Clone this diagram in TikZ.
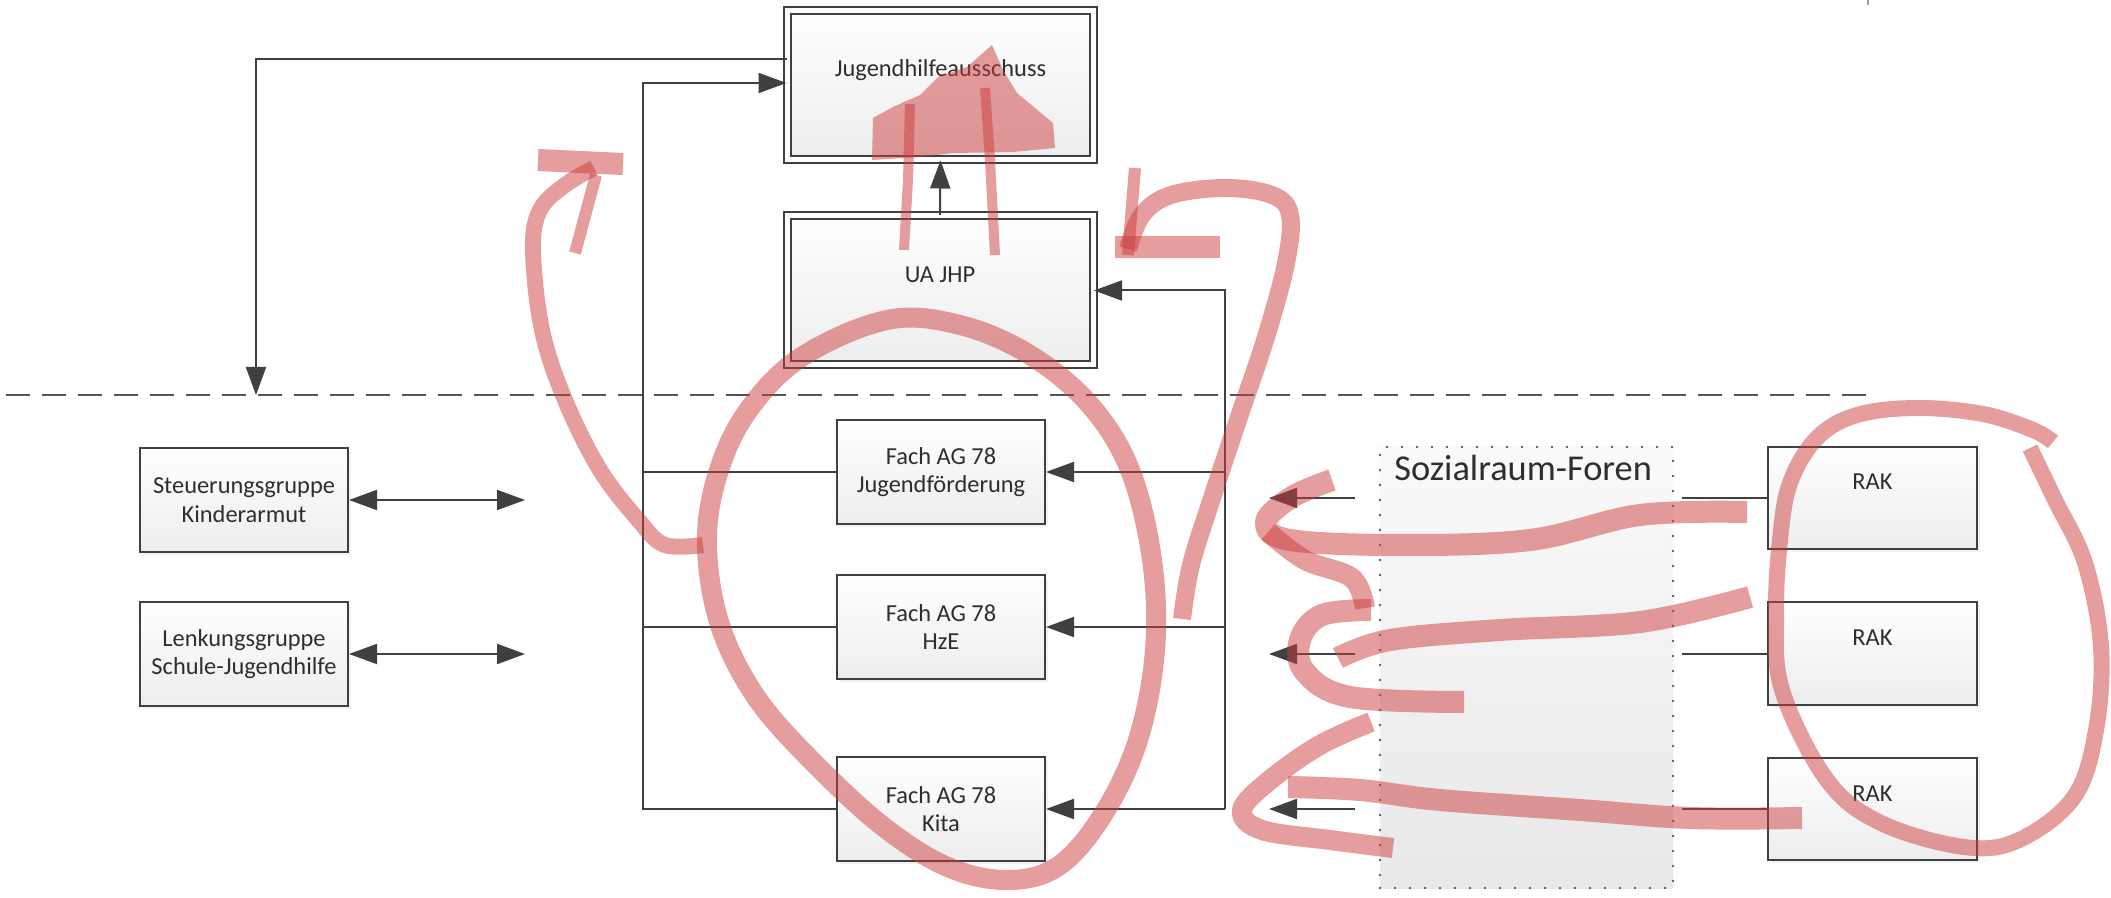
\documentclass[tikz,border=0pt]{standalone}
\usepackage{fontspec}
\setmainfont{Carlito}
\usetikzlibrary{arrows.meta,shadows}
\definecolor{ln}{HTML}{404040}
\definecolor{tx}{HTML}{2E2E2E}
\definecolor{redpen}{RGB}{205,60,60}
\tikzset{
  base/.style={draw=ln, line width=1pt, top color=white, bottom color=black!7, text=tx,
    font=\fontsize{12.2}{14.3}\selectfont, align=center, inner sep=0pt,
    drop shadow={opacity=0.10, shadow xshift=1.5pt, shadow yshift=-1.5pt}},
  fachbox/.style={base, minimum width=104pt, minimum height=52pt},
  topbox/.style={base, text height=8pt, text depth=16pt},
  rakbox/.style={topbox, minimum width=104.5pt, minimum height=51pt},
  dbox/.style={topbox, double=white, double distance=2.5pt, minimum width=153pt, minimum height=74.5pt},
  dotbox/.style={draw=ln!85, line width=1.4pt, dash pattern=on 0pt off 7.5pt, line cap=round,
    top color=black!2, bottom color=black!9, minimum width=146.5pt, minimum height=220.5pt, inner sep=0pt},
  sftitle/.style={text=tx, font=\fontsize{18.2}{21}\selectfont, inner sep=0pt},
  conn/.style={draw=ln, line width=1pt},
  tip/.style={conn, -{Triangle[length=14pt,width=10pt]}},
  dtip/.style={conn, {Triangle[length=14pt,width=10pt]}-{Triangle[length=14pt,width=10pt]}},
  dashline/.style={draw=ln!90, line width=1.3pt, dash pattern=on 12pt off 6pt},
  pen/.style={draw=redpen, draw opacity=0.5, line cap=butt, line join=round},
  penfill/.style={fill=redpen, fill opacity=0.5},
}
\begin{document}
\begin{tikzpicture}[x=0.5pt, y=-0.5pt]
\useasboundingbox (0,0) rectangle (2111,898);
\fill[white] (0,0) rectangle (2111,898);

% upper level
\node[dbox] (jha) at (940.5,85) {Jugendhilfeausschuss};
\node[dbox] (ua) at (940,290.5) {UA JHP};

% Fach AGs
\node[fachbox] (f1) at (941,472) {Fach AG 78\\Jugendförderung};
\node[fachbox] (f2) at (941,627) {Fach AG 78\\HzE};
\node[fachbox] (f3) at (941,809) {Fach AG 78\\Kita};

% left groups
\node[fachbox] (sk) at (244,500) {Steuerungsgruppe\\Kinderarmut};
\node[fachbox] (lk) at (244,654) {Lenkungsgruppe\\Schule-Jugendhilfe};

% Sozialraum-Foren
\node[dotbox] (sf) at (1526.5,667.5) {};
\node[sftitle, anchor=west] (sft) at (1394,468) {Sozialraum-Foren};

% RAK
\node[rakbox] (r1) at (1872.5,498) {RAK};
\node[rakbox] (r2) at (1872.5,653.5) {RAK};
\node[rakbox] (r3) at (1872.5,809) {RAK};

% coordinates
\coordinate (dl) at (256,395);
\coordinate (lb) at (643,83);
\coordinate (rb) at (1225,809);
\coordinate (ska) at (525,500);
\coordinate (lka) at (525,654);
\coordinate (s1) at (1355,498);
\coordinate (s2) at (1355,654);
\coordinate (s3) at (1355,809);
\coordinate (t1) at (1269,498);
\coordinate (t2) at (1269,654);
\coordinate (t3) at (1269,809);
\coordinate (q1) at (1682,498);
\coordinate (q2) at (1682,653.5);
\coordinate (q3) at (1682,809);

% dashed separator
\draw[dashline] (6,395) -- (1873,395);
\draw[ln!50, line width=0.6pt] (1868,0) -- (1868,5);

% connectors
\draw[tip] (jha.west |- 0,59) -- (256,59) -- (dl);
\draw[tip] (f3.west) -- (f3.west -| lb) -- (lb) -- (jha.west |- lb);
\draw[conn] (f1.west) -- (f1.west -| lb);
\draw[conn] (f2.west) -- (f2.west -| lb);
\draw[tip] (ua.north) -- (jha.south);
\draw[tip] (rb) -- (f3.east);
\draw[tip] (f2.east -| rb) -- (f2.east);
\draw[tip] (f1.east -| rb) -- (f1.east);
\draw[tip] (rb) -- (rb |- ua.east) -- (ua.east);
\draw[dtip] (sk.east) -- (ska);
\draw[dtip] (lk.east) -- (lka);
\draw[tip] (s1) -- (t1);
\draw[tip] (s2) -- (t2);
\draw[tip] (s3) -- (t3);
\draw[conn] (q1) -- (r1.west);
\draw[conn] (q2) -- (r2.west);
\draw[conn] (q3) -- (r3.west);

% red hand-drawn marks
\fill[penfill] (992,45) -- (1003,70) -- (1017,93) -- (1053,123) -- (1055,148) -- (1013,152)
  -- (953,153) -- (920,157) -- (872,160) -- (873,118) -- (893,107) -- (920,95) -- (938,77) -- (967,67) -- cycle;
\draw[pen, line width=5pt] (910,104) -- (908,180) -- (904,250);
\draw[pen, line width=5pt] (985,88) -- (990,160) -- (995,255);

\draw[pen, line width=8pt] plot[smooth, tension=0.6] coordinates {(703,545) (665,545) (640,522) (600,470) (565,400) (542,330) (533,250) (540,210) (565,185) (594,168)};
\draw[pen, line width=11pt] (538,160) -- (623,164);
\draw[pen, line width=6pt] (596,175) -- (575,253);

\draw[pen, line width=9pt] plot[smooth, tension=0.6] coordinates {(1182,619) (1191,565) (1212,498) (1239,417) (1266,337) (1286,263) (1290,215) (1272,195) (1225,188) (1171,195) (1142,215) (1128,249)};
\draw[pen, line width=11pt] (1115,247) -- (1220,247);
\draw[pen, line width=6pt] (1135,168) -- (1128,255);

\draw[pen, line width=10pt] plot[smooth cycle, tension=0.6] coordinates {(887,320) (960,325) (1030,355) (1090,405) (1130,470) (1152,560) (1155,650) (1138,740) (1104,813) (1060,865) (1010,880) (950,868) (885,828) (814,763) (756,697) (720,625) (707,547) (716,480) (745,415) (800,358)};

\draw[pen, line width=11pt] plot[smooth, tension=0.6] coordinates {(1332,480) (1292,497) (1266,522) (1290,540) (1400,545) (1530,540) (1640,515) (1747,512)};
\draw[pen, line width=10pt] plot[smooth, tension=0.6] coordinates {(1268,532) (1305,560) (1352,578) (1365,608)};
\draw[pen, line width=11pt] plot[smooth, tension=0.6] coordinates {(1750,597) (1640,622) (1500,630) (1390,640) (1338,658)};
\draw[pen, line width=11pt] plot[smooth, tension=0.6] coordinates {(1371,610) (1322,615) (1300,640) (1305,672) (1350,697) (1464,702)};
\draw[pen, line width=11pt] plot[smooth, tension=0.6] coordinates {(1288,787) (1360,790) (1440,800) (1580,810) (1690,818) (1802,818)};
\draw[pen, line width=10pt] plot[smooth, tension=0.6] coordinates {(1371,722) (1320,745) (1270,780) (1242,810) (1262,830) (1330,840) (1393,848)};

\draw[pen, line width=8pt] plot[smooth, tension=0.6] coordinates {(2053,442) (2033,430) (1983,414) (1917,408) (1857,415) (1817,438) (1790,483) (1780,540) (1776,613) (1782,690) (1827,780) (1881,823) (1964,847) (2019,840) (2074,797) (2096,730) (2101,647) (2085,563) (2055,500) (2030,448)};
\end{tikzpicture}
\end{document}
